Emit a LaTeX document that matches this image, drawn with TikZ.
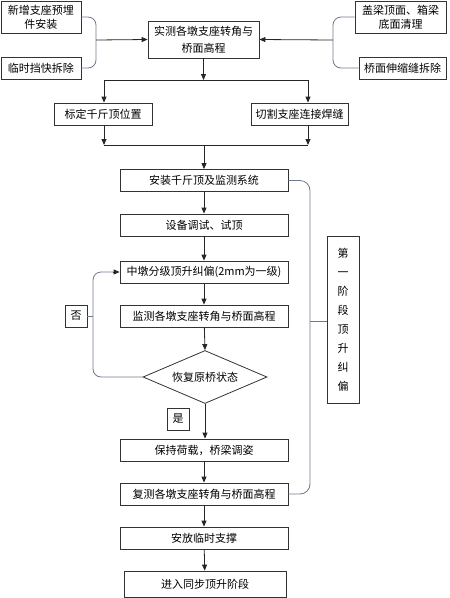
\documentclass[tikz,border=0pt]{standalone}
\usepackage{fontspec}
\setmainfont{Noto Sans CJK SC}
\usetikzlibrary{shapes.geometric,arrows.meta,calc}
\definecolor{conncol}{RGB}{112,122,138}
\begin{document}
\begin{tikzpicture}[x=1pt,y=-1pt,
  box/.style={draw=black!80, line width=0.8pt, fill=white, inner sep=1pt, align=center,
    font=\fontsize{11}{15}\selectfont},
  conn/.style={draw=conncol, line width=0.8pt, rounded corners=8pt},
  arr/.style={draw=black!85, line width=0.8pt, -{Triangle[length=6pt,width=5pt]}},
  plain/.style={draw=black!85, line width=0.8pt}]
\useasboundingbox (0,0) rectangle (450,598);
% top
\node[box, minimum width=80, minimum height=32] (a1) at (41,17) {新增支座预埋\\[-1pt]件安装};
\node[box, minimum width=80, minimum height=22] (a2) at (41,68) {临时挡快拆除};
\node[box, minimum width=111, minimum height=37] (m0) at (203.5,39.5) {实测各墩支座转角与\\[2pt]桥面高程};
\node[box, minimum width=91, minimum height=32] (b1) at (400.5,17) {盖梁顶面、箱梁\\[-1pt]底面清理};
\node[box, minimum width=87, minimum height=22] (b2) at (402.5,68) {桥面伸缩缝拆除};
\node[box, minimum width=98, minimum height=22] (c1) at (103,114) {标定千斤顶位置};
\node[box, minimum width=97, minimum height=22] (c2) at (299.5,114) {切割支座连接焊缝};
% main column
\node[box, minimum width=168, minimum height=22] (d1) at (204,180.5) {安装千斤顶及监测系统};
\node[box, minimum width=168, minimum height=22] (d2) at (204,225) {设备调试、试顶};
\node[box, minimum width=168, minimum height=22] (d3) at (204,272) {中墩分级顶升纠偏(2mm为一级)};
\node[box, minimum width=168, minimum height=22] (d4) at (204,316) {监测各墩支座转角与桥面高程};
\node[draw=black!80, line width=0.8pt, diamond, aspect=2.34, inner sep=0pt, minimum width=124, minimum height=53,
  font=\fontsize{11}{15}\selectfont] (q) at (205,377) {恢复原桥状态};
\node[box, minimum width=22, minimum height=22] (yes) at (178,419) {是};
\node[box, minimum width=22, minimum height=22] (no) at (76,316) {否};
\node[box, minimum width=168, minimum height=22] (d5) at (204,450) {保持荷载，桥梁调姿};
\node[box, minimum width=168, minimum height=22] (d6) at (204,494) {复测各墩支座转角与桥面高程};
\node[box, minimum width=168, minimum height=22] (d7) at (204,538) {安放临时支撑};
\node[box, minimum width=162, minimum height=26] (d8) at (205,584) {进入同步顶升阶段};
\node[box, minimum width=32, minimum height=167, font=\fontsize{11}{19}\selectfont] (e) at (343,319.5)
  {第\\一\\阶\\段\\顶\\升\\纠\\偏};
% coordinates
\coordinate (jl) at (96,40);
\coordinate (jr) at (333,40);
\coordinate (h1) at (104,80);
\coordinate (h2) at (308,80);
\coordinate (g1) at (104,145);
\coordinate (g2) at (308,145);
\coordinate (lp) at (93,377);
\coordinate (rp) at (310,321);
% left / right brackets
\draw[conn] (a1.east) -- (a1.east -| jl) -- (a2.east -| jl) -- (a2.east);
\draw[conn] (b1.west) -- (b1.west -| jr) -- (b2.west -| jr) -- (b2.west);
\draw[arr] (jl) -- (m0.west);
\draw[arr] (jr) -- (m0.east);
% split to c1, c2
\draw[arr] (m0.south) -- (m0.south |- h1);
\draw[plain] (h1) -- (h2);
\draw[arr] (h1) -- (h1 |- c1.north);
\draw[arr] (h2) -- (h2 |- c2.north);
\draw[arr] (c1.south -| g1) -- (g1);
\draw[arr] (c2.south -| g2) -- (g2);
\draw[plain] (g1) -- (g2);
\draw[arr] (g1 -| d1.north) -- (d1.north);
% main flow
\draw[arr] (d1) -- (d2);
\draw[arr] (d2) -- (d3);
\draw[arr] (d3) -- (d4);
\draw[arr] (d4) -- (q.north);
\draw[arr] (q.south) -- (d5.north -| q.south);
\draw[arr] (d5) -- (d6);
\draw[arr] (d6) -- (d7);
\draw[arr] (d7) -- (d8);
% loop
\draw[conn] (q.west) -- (lp) -- (lp |- d3.west) -- ($(d3.west)+(-6,0)$);
\draw[arr] ($(d3.west)+(-7,0)$) -- (d3.west);
\draw[conn, rounded corners=0pt] (no.east) -- (no.east -| lp);
% right bracket
\draw[conn, rounded corners=10pt] (d1.east) -- (d1.east -| rp) -- (d6.east -| rp) -- (d6.east);
\draw[conn, rounded corners=0pt] (rp) -- (rp -| e.west);
\end{tikzpicture}
\end{document}
